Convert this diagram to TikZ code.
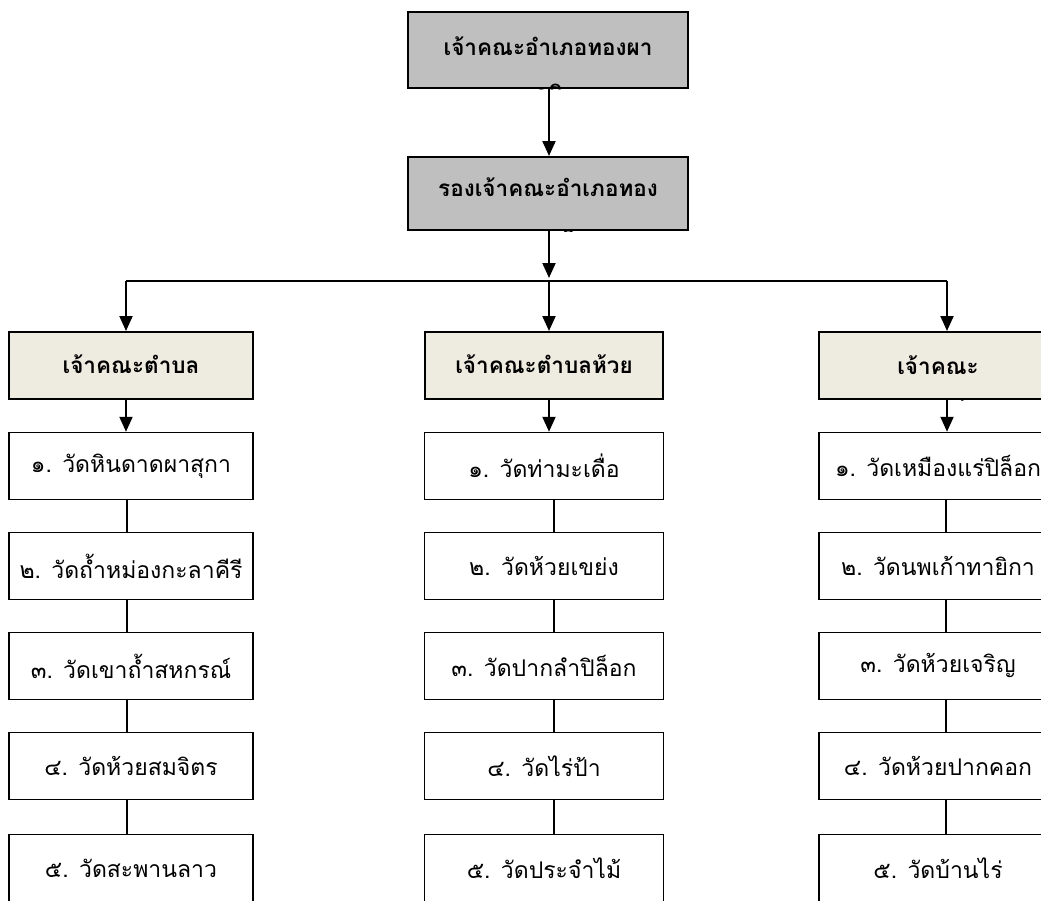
\documentclass[tikz,border=0pt]{standalone}
\usepackage{fontspec}
\newfontfamily\thaifont[Script=Thai]{Loma}
\usetikzlibrary{arrows.meta}
\definecolor{headgray}{RGB}{191,191,191}
\definecolor{tambonfill}{RGB}{238,236,225}

\tikzset{
  topbox/.style={draw,line width=2pt,fill=headgray,inner sep=0pt,minimum width=280pt},
  tambonbox/.style={draw,line width=2pt,fill=tambonfill,inner sep=0pt,minimum height=67pt},
  watbox/.style={draw,line width=1.5pt,fill=white,inner sep=0pt,minimum height=67pt,
    font=\thaifont\fontsize{23}{26}\selectfont},
  headtext/.style={align=center,inner sep=0pt,font=\thaifont\bfseries\fontsize{22.5}{47}\selectfont},
  arrow/.style={line width=2pt,-{Triangle[width=13pt,length=15pt]}},
  link/.style={line width=1.5pt}
}

\begin{document}
\begin{tikzpicture}[x=1pt,y=-1pt]
    \pgfmathsetmacro{\leftx}{131}
    \pgfmathsetmacro{\midx}{544}
    \pgfmathsetmacro{\rightx}{938}
    \useasboundingbox (0,0) rectangle (1041,900);
    \clip (0,0) rectangle (1041,900);
    % district level
    \node[topbox,minimum height=76pt] (amphoe) at (548,50) {};
    \begin{scope}
        \clip (amphoe.south west) rectangle (amphoe.north east);
        \node[headtext,anchor=north] (amphoetext) at (548,36) {เจ้าคณะอำเภอทองผา\\ภูมิ};
    \end{scope}
    \node[topbox,minimum height=73pt] (rong) at (548,193.5) {};
    \begin{scope}
        \clip (rong.south west) rectangle (rong.north east);
        \node[headtext,anchor=north] (rongtext) at (548,177) {รองเจ้าคณะอำเภอทอง\\[5pt]ผาภูมิ};
    \end{scope}
    \coordinate (split) at (549,281);
    \coordinate (splitl) at (126,281);
    \coordinate (splitr) at (947,281);
    \draw[arrow] (amphoe.south -| split) -- (rong.north -| split);
    \draw[arrow] (rong.south -| split) -- ([yshift=3pt]split);
    \draw[line width=2pt] (splitl) -- (splitr);
    % tambon level
    \node[tambonbox,minimum width=244pt] (tl) at (\leftx,365.5) {};
    \node[headtext] (tltext) at (\leftx,364) {เจ้าคณะตำบล};
    \node[tambonbox,minimum width=238pt] (tm) at (\midx,365.5) {};
    \node[headtext] (tmtext) at (\midx,364) {เจ้าคณะตำบลห้วย};
    \node[tambonbox,minimum width=238pt] (tr) at (\rightx,365.5) {};
    \begin{scope}
        \clip (tr.south west) rectangle (tr.north east);
        \node[headtext,anchor=north] (trtext) at (\rightx,355) {เจ้าคณะ\\ตำบลปิล็อก};
    \end{scope}
    \draw[arrow] (splitl) -- (splitl |- tl.north);
    \draw[arrow] (split) -- (split |- tm.north);
    \draw[arrow] (splitr) -- (splitr |- tr.north);
    % temples
    \foreach \i/\wat in {1/{๑. วัดหินดาดผาสุกา},2/{๒. วัดถ้ำหม่องกะลาคีรี},3/{๓. วัดเขาถ้ำสหกรณ์},
        4/{๔. วัดห้วยสมจิตร},5/{๕. วัดสะพานลาว}}
        \node[watbox,minimum width=244pt] (l\i) at (\leftx,{466+100*(\i-1)+(\i==5)*2}) {\wat};
    \foreach \i/\wat in {1/{๑. วัดท่ามะเดื่อ},2/{๒. วัดห้วยเขย่ง},3/{๓. วัดปากลำปิล็อก},
        4/{๔. วัดไร่ป้า},5/{๕. วัดประจำไม้}}
        \node[watbox,minimum width=239pt] (m\i) at (\midx,{466+100*(\i-1)+(\i==5)*2}) {\wat};
    \foreach \i/\wat in {1/{๑. วัดเหมืองแร่ปิล็อก},2/{๒. วัดนพเก้าทายิกา},3/{๓. วัดห้วยเจริญ},
        4/{๔. วัดห้วยปากคอก},5/{๕. วัดบ้านไร่}}
        \node[watbox,minimum width=238pt] (r\i) at (\rightx,{466+100*(\i-1)+(\i==5)*2}) {\wat};
    \draw[arrow] (tl.south -| splitl) -- (l1.north -| splitl);
    \draw[arrow] (tm.south -| split) -- (m1.north -| split);
    \draw[arrow] (tr.south -| splitr) -- (r1.north -| splitr);
    \foreach \i [evaluate=\i as \j using int(\i+1)] in {1,...,4} {
        \draw[link] ([xshift=-4pt]l\i.south) -- ([xshift=-4pt]l\j.north);
        \draw[link] ([xshift=10pt]m\i.south) -- ([xshift=10pt]m\j.north);
        \draw[link] ([xshift=8pt]r\i.south) -- ([xshift=8pt]r\j.north);
    }
\end{tikzpicture}
\end{document}
